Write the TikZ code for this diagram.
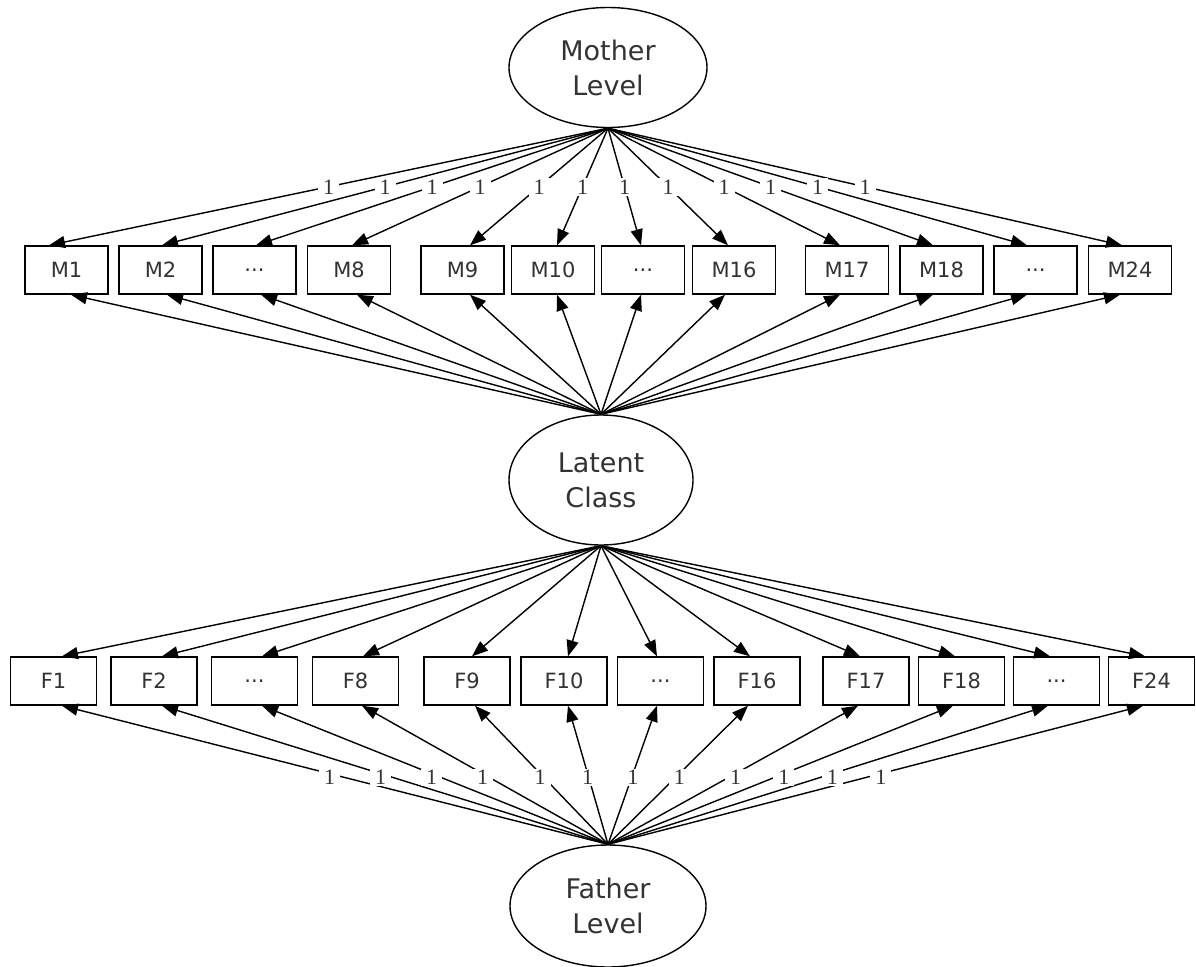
\documentclass[tikz,border=0pt]{standalone}
\usepackage{fontspec}
\setmainfont{DejaVu Sans}
\newfontfamily\labfont{Liberation Serif}
\usetikzlibrary{arrows.meta,shapes.geometric,calc}
\newcommand\mydots{...}
\begin{document}
\begin{tikzpicture}[x=1pt,y=-1pt,
  box/.style={draw, line width=1.4pt, fill=white, minimum height=48pt, inner sep=0pt,
    font=\fontsize{21}{25}\selectfont, text=black!80},
  lv/.style={ellipse, draw, line width=1.4pt, inner sep=0pt, align=center,
    font=\fontsize{27}{35}\selectfont, text=black!80},
  edge/.style={line width=1.4pt, -{Triangle[length=16pt,width=12pt]}},
  one/.style={fill=white, inner xsep=5pt, inner ysep=1.5pt, font=\labfont\fontsize{22}{22}\selectfont, text=black!80}]
\useasboundingbox (0,0) rectangle (1196,966);

\node[lv, minimum width=198pt, minimum height=120pt] (mother) at (608,67.5) {Mother\\Level};
\node[lv, minimum width=184pt, minimum height=130pt] (latent) at (601,480) {Latent\\Class};
\node[lv, minimum width=196pt, minimum height=122pt] (father) at (608,906) {Father\\Level};

% M row
\foreach \i/\x/\t/\dt/\db in {1/66.5/M1/-17.5/4.5, 2/160.5/M2/1.5/6.5, 3/254.5/\mydots/1.5/6.5,
  4/349/M8/3/8, 5/462.5/M9/7.5/7.5, 6/553/M10/4/4, 7/643/\mydots/-2/-2, 8/734/M16/-6/-9,
  9/847/M17/-7/-7, 10/941.5/M18/-8.5/-8.5, 11/1035.5/\mydots/-8.5/-8.5, 12/1130/M24/-8/-10}{
  \node[box, minimum width=83pt] (M\i) at (\x,270) {\t};
  \draw[edge] (mother.south) -- ($(M\i.north)+(\dt,0)$);
  \draw[edge] (latent.north) -- ($(M\i.south)+(\db,0)$);
}
\foreach \i/\dt in {1/-17.5, 2/1.5, 3/1.5, 4/3, 5/7.5, 6/4, 7/-2, 8/-6, 9/-7, 10/-8.5, 11/-8.5, 12/-8}{
  \path (mother.south) -- ($(M\i.north)+(\dt,0)$) node[one, pos=0.5] {1};
}

% F row
\foreach \i/\x/\t/\dt/\db in {1/53.5/F1/8.5/8.5, 2/154/F2/8/8, 3/254.5/\mydots/7.5/7.5,
  4/355.5/F8/7.5/6.5, 5/467/F9/5/8, 6/564/F10/4/4, 7/660.5/\mydots/-3.5/-3.5, 8/757/F16/-7/-9,
  9/866/F17/-6/-8, 10/961.5/F18/-6.5/-8.5, 11/1056.5/\mydots/-6.5/-8.5, 12/1151.5/F24/-6.5/-8.5}{
  \node[box, minimum width=86pt] (F\i) at (\x,681) {\t};
  \draw[edge] (latent.south) -- ($(F\i.north)+(\dt,0)$);
  \draw[edge] (father.north) -- ($(F\i.south)+(\db,0)$);
}
\foreach \i/\db in {1/8.5, 2/8, 3/7.5, 4/6.5, 5/8, 6/4, 7/-3.5, 8/-9, 9/-8, 10/-8.5, 11/-8.5, 12/-8.5}{
  \path (father.north) -- ($(F\i.south)+(\db,0)$) node[one, pos=0.51, yshift=-4pt] {1};
}
\end{tikzpicture}
\end{document}
